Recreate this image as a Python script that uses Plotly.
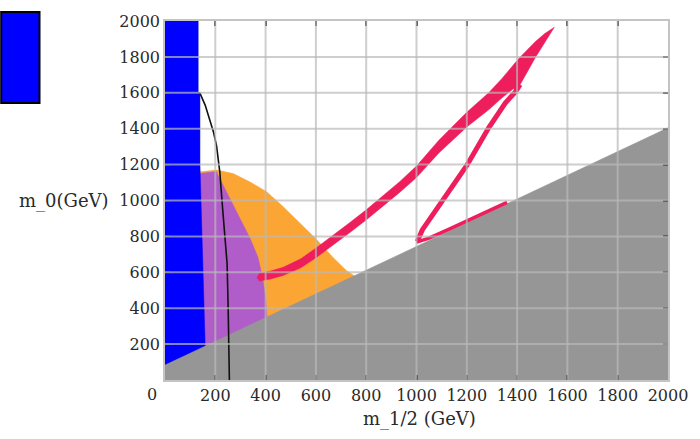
import plotly.graph_objects as go

# ---- data ----
tick_vals = [200, 400, 600, 800, 1000, 1200, 1400, 1600, 1800, 2000]
tick_text = [str(v) for v in tick_vals]

grey_x = [0, 0, 2000, 2000]
grey_y = [0, 83, 1405, 0]

blue_x = [0, 132, 132, 139, 139, 150, 159, 162, 0]
blue_y = [2000, 2000, 1600, 1600, 1200, 700, 225, 0, 0]

orange_x = [140, 205, 271, 337, 404, 469, 536, 602, 668, 721, 775, 775, 140]
orange_y = [1160, 1170, 1150, 1104, 1049, 967, 875, 784, 683, 610, 560, 0, 0]

purple_x = [139, 205, 211, 258, 298, 337, 370, 390, 401, 405, 405, 139]
purple_y = [1150, 1162, 1141, 1013, 903, 793, 683, 555, 445, 353, 0, 0]

black_x = [132, 139, 160, 178, 193, 205, 218, 231, 240, 247, 251, 253, 256]
black_y = [1600, 1598, 1530, 1451, 1380, 1304, 1157, 921, 780, 647, 408, 250, 0]

# upper pink band with merged tip wedge (outline)
pink_band_x = [375, 420, 470, 540, 602, 670, 734, 800, 866, 933, 1000, 1089, 1200, 1287,
               1340, 1406, 1472, 1510, 1548,
               1530, 1500, 1472, 1440, 1415, 1400, 1385,
               1340, 1287, 1200, 1089, 1000, 933, 866, 800, 734, 670, 602, 540, 470,
               420, 375, 365]
pink_band_y = [595, 607, 628, 675, 737, 807, 876, 948, 1024, 1105, 1192, 1336, 1492, 1600,
               1680, 1790, 1885, 1930, 1965,
               1925, 1860, 1795, 1715, 1650, 1615, 1622,
               1572, 1505, 1410, 1265, 1128, 1045, 966, 892, 820, 753, 683, 625, 582,
               563, 551, 573]

pink_lower_x = [1412, 1393, 1353, 1287, 1200, 1129, 1063, 1023, 1003]
pink_lower_y = [1645, 1605, 1543, 1405, 1195, 1047, 918, 836, 771]

pink_edge_x = [1000, 1050, 1130, 1200, 1290, 1360]
pink_edge_y = [768, 790, 840, 886, 946, 990]

grid_vals = [200, 400, 600, 800, 1000, 1200, 1400, 1600, 1800]

# ---- style ----
FONT = "DejaVu Serif"
TXT = "#2a2a2a"
BLUE = "#0000FF"
ORANGE = "#FBA634"
PURPLE = "#B15DC9"
GREY = "#969696"
PINK = "#EE1D5C"

fig = go.Figure()

def region(xs, ys, color):
    fig.add_trace(go.Scatter(x=xs, y=ys, fill="toself", fillcolor=color,
                             mode="lines", line=dict(width=0.5, color=color),
                             hoverinfo="skip", showlegend=False))

region(orange_x, orange_y, ORANGE)
region(purple_x, purple_y, PURPLE)
region(blue_x, blue_y, BLUE)
region(grey_x, grey_y, GREY)

fig.add_trace(go.Scatter(x=black_x, y=black_y, mode="lines",
                         line=dict(color="#111111", width=1.6), showlegend=False))

region(pink_band_x, pink_band_y, PINK)
fig.add_trace(go.Scatter(x=pink_lower_x, y=pink_lower_y, mode="lines",
                         line=dict(color=PINK, width=5), showlegend=False))
fig.add_trace(go.Scatter(x=pink_edge_x, y=pink_edge_y, mode="lines",
                         line=dict(color=PINK, width=3.5), showlegend=False))

shapes = []
gcol = "rgba(185,185,185,0.7)"
for v in grid_vals:
    shapes.append(dict(type="line", xref="x", yref="y", x0=v, x1=v, y0=0, y1=2000,
                       line=dict(color=gcol, width=2), layer="above"))
    shapes.append(dict(type="line", xref="x", yref="y", x0=0, x1=2000, y0=v, y1=v,
                       line=dict(color=gcol, width=2), layer="above"))
# legend-like blue box at top-left
shapes.append(dict(type="rect", xref="paper", yref="paper",
                   x0=-0.3257, x1=-0.2495, y0=0.7713, y1=1.0248,
                   fillcolor=BLUE, line=dict(color="black", width=2), layer="above"))

axis_common = dict(tickvals=tick_vals, ticktext=tick_text, ticks="inside", ticklen=5,
                   tickwidth=2, tickcolor="#333333", showgrid=False, zeroline=False,
                   showline=True, linecolor="#c4c4c4", linewidth=1.5, mirror="ticks",
                   layer="above traces",
                   tickfont=dict(family=FONT, size=16, color=TXT))

fig.update_layout(
    width=700, height=439,
    margin=dict(l=165, r=30, t=17, b=59),
    paper_bgcolor="white", plot_bgcolor="white",
    xaxis=dict(range=[0, 2000], **axis_common),
    yaxis=dict(range=[0, 2000], **axis_common),
    shapes=shapes,
    showlegend=False,
    annotations=[
        dict(text="0", xref="paper", yref="paper", x=-0.026, y=-0.04,
             xanchor="center", yanchor="middle", showarrow=False,
             font=dict(family=FONT, size=16, color=TXT)),
        dict(text="m_0(GeV)", xref="paper", yref="y", x=-0.107, y=1000,
             xanchor="right", yanchor="middle", showarrow=False,
             font=dict(family=FONT, size=18, color=TXT)),
        dict(text="m_1/2 (GeV)", xref="paper", yref="paper", x=0.506, y=-0.11,
             xanchor="center", yanchor="middle", showarrow=False,
             font=dict(family=FONT, size=18, color=TXT)),
    ],
)

fig.write_html("out.html")
